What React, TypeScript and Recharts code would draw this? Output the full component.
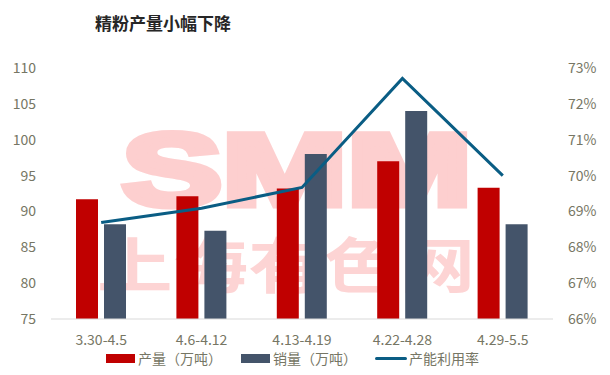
import React from 'react';
import { ComposedChart, Bar, Line, XAxis, YAxis, CartesianGrid } from 'recharts';

const weeks = ['3.30-4.5', '4.6-4.12', '4.13-4.19', '4.22-4.28', '4.29-5.5'];
const output = [91.7, 92.1, 93.2, 97.0, 93.3];
const sales = [88.2, 87.3, 98.0, 104.0, 88.2];
const utilization = [0.6869, 0.6909, 0.6967, 0.7271, 0.7];
const leftTicks = [75, 80, 85, 90, 95, 100, 105, 110];
const rightTicks = [0.66, 0.67, 0.68, 0.69, 0.7, 0.71, 0.72, 0.73];

const RED = '#c00000';
const SLATE = '#44546a';
const BLUE = '#0a5d84';
const AXIS_TEXT = '#767664';
const FONT = '"Noto Sans CJK SC", "Noto Sans", sans-serif';

const data = weeks.map((w, i) => ({
  week: w,
  output: output[i],
  sales: sales[i],
  rate: utilization[i],
}));

const legendItems = [
  { name: '产量（万吨）', color: RED, type: 'rect', left: 106 },
  { name: '销量（万吨）', color: SLATE, type: 'rect', left: 241 },
  { name: '产能利用率', color: BLUE, type: 'line', left: 375 },
];

const App: React.FC = () => {
  return (
    <div style={{ position: 'absolute', left: 0, top: 0, width: 610, height: 375, background: '#fff', fontFamily: FONT }}>
      {/* watermark behind the chart */}
      <svg width={610} height={375} style={{ position: 'absolute', left: 0, top: 0 }}>
        <text x={122} y={205} fontSize={102} fontWeight={700} fill="#fdcfcf" stroke="#fdcfcf" strokeWidth={7}
          textLength={350} lengthAdjust="spacingAndGlyphs" fontFamily='"Liberation Sans", sans-serif'>SMM</text>
        <text x={97} y={288} fontSize={60} fontWeight={700} fill="#fdd4d4" textLength={378}
          lengthAdjust="spacingAndGlyphs" fontFamily='"DejaVu Sans", "Noto Sans CJK SC", sans-serif'>上海有色网</text>
      </svg>
      <div style={{ position: 'absolute', left: 95, top: 10, fontSize: 17, fontWeight: 700, color: '#262626' }}>
        精粉产量小幅下降
      </div>
      <div style={{ position: 'absolute', left: 0, top: 0 }}>
        <ComposedChart
          width={610}
          height={375}
          data={data}
          margin={{ top: 68, right: 0, bottom: 26, left: 0 }}
          barGap={6}
          style={{ fontFamily: FONT }}
        >
          <CartesianGrid vertical={false} horizontal={false} />
          <XAxis
            dataKey="week"
            axisLine={{ stroke: '#d9d9d9' }}
            tickLine={false}
            tickSize={6}
            tickMargin={10}
            height={30}
            tick={{ fill: AXIS_TEXT, fontSize: 14 }}
            interval={0}
          />
          <YAxis
            yAxisId="left"
            domain={[75, 110]}
            ticks={leftTicks}
            width={51}
            axisLine={false}
            tickLine={false}
            tickSize={0}
            tickMargin={15}
            tick={{ fill: AXIS_TEXT, fontSize: 14 }}
            interval={0}
          />
          <YAxis
            yAxisId="right"
            orientation="right"
            domain={[0.66, 0.73]}
            ticks={rightTicks}
            width={57}
            axisLine={false}
            tickLine={false}
            tickSize={0}
            tickMargin={15}
            tick={{ fill: AXIS_TEXT, fontSize: 14 }}
            tickFormatter={(v: number) => `${Math.round(v * 100)}%`}
            interval={0}
          />
          <Bar yAxisId="left" dataKey="output" name="产量（万吨）" fill={RED} barSize={22} isAnimationActive={false} />
          <Bar yAxisId="left" dataKey="sales" name="销量（万吨）" fill={SLATE} barSize={22} isAnimationActive={false} />
          <Line
            yAxisId="right"
            type="linear"
            dataKey="rate"
            name="产能利用率"
            stroke={BLUE}
            strokeWidth={3}
            dot={false}
            isAnimationActive={false}
          />
        </ComposedChart>
      </div>
      {legendItems.map((it) => (
        <div key={it.name} style={{ position: 'absolute', left: it.left, top: 348, display: 'flex', alignItems: 'center', fontSize: 14, color: AXIS_TEXT }}>
          {it.type === 'rect' ? (
            <span style={{ display: 'inline-block', width: 29, height: 9, background: it.color, marginRight: 3 }} />
          ) : (
            <span style={{ display: 'inline-block', width: 32, height: 3, background: it.color, borderRadius: 2, marginRight: 2 }} />
          )}
          <span>{it.name}</span>
        </div>
      ))}
    </div>
  );
};

export default App;
